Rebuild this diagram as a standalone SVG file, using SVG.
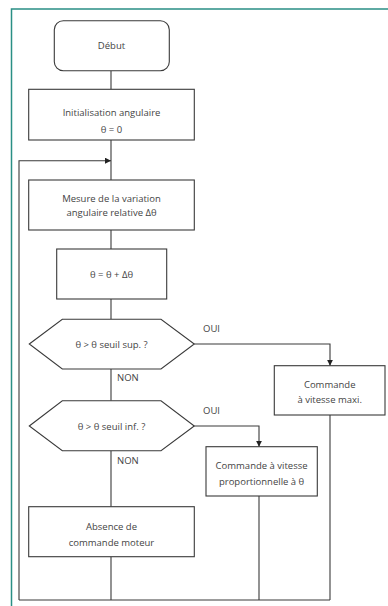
<svg xmlns="http://www.w3.org/2000/svg" width="388" height="606" viewBox="0 0 388 606">
<style>
.box{fill:#fff;stroke:#3a3a3a;stroke-width:1.1}
.ln{fill:none;stroke:#3a3a3a;stroke-width:1.1}
text{font-family:"Open Sans","Noto Sans","Liberation Sans",sans-serif;font-size:9.5px;fill:#444;text-anchor:middle}
.lbl{text-anchor:start}
</style>
<defs>
<marker id="ar" viewBox="0 0 10 10" refX="10" refY="5" markerWidth="6" markerHeight="6" orient="auto" markerUnits="userSpaceOnUse">
<path d="M0,0 L10,5 L0,10 z" fill="#222"/>
</marker>
</defs>
<rect width="388" height="606" fill="#fff"/>
<path d="M11.5,606 V9 H388" fill="none" stroke="#2a8f85" stroke-width="1.5"/>
<g id="connectors">
<path class="ln" d="M111,70.7 V89.3"/>
<path class="ln" d="M111,140 V180"/>
<path class="ln" d="M111,230 V249"/>
<path class="ln" d="M111,299 V319.3"/>
<path class="ln" d="M111,369 V400.7"/>
<path class="ln" d="M111,450.7 V506.7"/>
<path class="ln" d="M111,556.7 V600"/>
<path class="ln" d="M19,600 H330"/>
<path class="ln" d="M19,600 V160.7 H111" marker-end="url(#ar)"/>
<path class="ln" d="M194.3,344 H330 V365.7" marker-end="url(#ar)"/>
<path class="ln" d="M194.3,426 H259 V446.7" marker-end="url(#ar)"/>
<path class="ln" d="M330,415 V600"/>
<path class="ln" d="M259,496 V600"/>
<text class="lbl" x="203" y="332">OUI</text>
<text class="lbl" x="203" y="414">OUI</text>
<text class="lbl" x="117" y="381">NON</text>
<text class="lbl" x="117" y="464">NON</text>
</g>
<g id="debut">
<rect class="box" x="54.3" y="20.7" width="115" height="50" rx="9"/>
<text x="111.5" y="49">Début</text>
</g>
<g id="init">
<rect class="box" x="28.7" y="89.3" width="165.6" height="50.7"/>
<text x="111.5" y="116">Initialisation angulaire</text>
<text x="111.5" y="133">θ = 0</text>
</g>
<g id="mesure">
<rect class="box" x="28.7" y="180" width="165.6" height="50"/>
<text x="111.5" y="202">Mesure de la variation</text>
<text x="111.5" y="216">angulaire relative Δθ</text>
</g>
<g id="calc">
<rect class="box" x="56.7" y="249" width="110" height="50"/>
<text x="111.5" y="277.5">θ = θ + Δθ</text>
</g>
<g id="test1">
<polygon class="box" points="29.3,344 62.3,319.3 161,319.3 194.3,344 161,369 62.3,369"/>
<text x="111.5" y="347.5">θ &gt; θ seuil sup. ?</text>
</g>
<g id="test2">
<polygon class="box" points="29.3,426 62.3,400.7 161,400.7 194.3,426 161,450.7 62.3,450.7"/>
<text x="111.5" y="429.5">θ &gt; θ seuil inf. ?</text>
</g>
<g id="absence">
<rect class="box" x="28.7" y="506.7" width="165.6" height="50"/>
<text x="111.5" y="530">Absence de</text>
<text x="111.5" y="546">commande moteur</text>
</g>
<g id="maxi">
<rect class="box" x="274.3" y="365.7" width="110.7" height="49.3"/>
<text x="329.7" y="388">Commande</text>
<text x="329.7" y="403">à vitesse maxi.</text>
</g>
<g id="prop">
<rect class="box" x="206" y="446.7" width="111.3" height="49.3"/>
<text x="261.6" y="469">Commande à vitesse</text>
<text x="261.6" y="485">proportionnelle à θ</text>
</g>
</svg>
